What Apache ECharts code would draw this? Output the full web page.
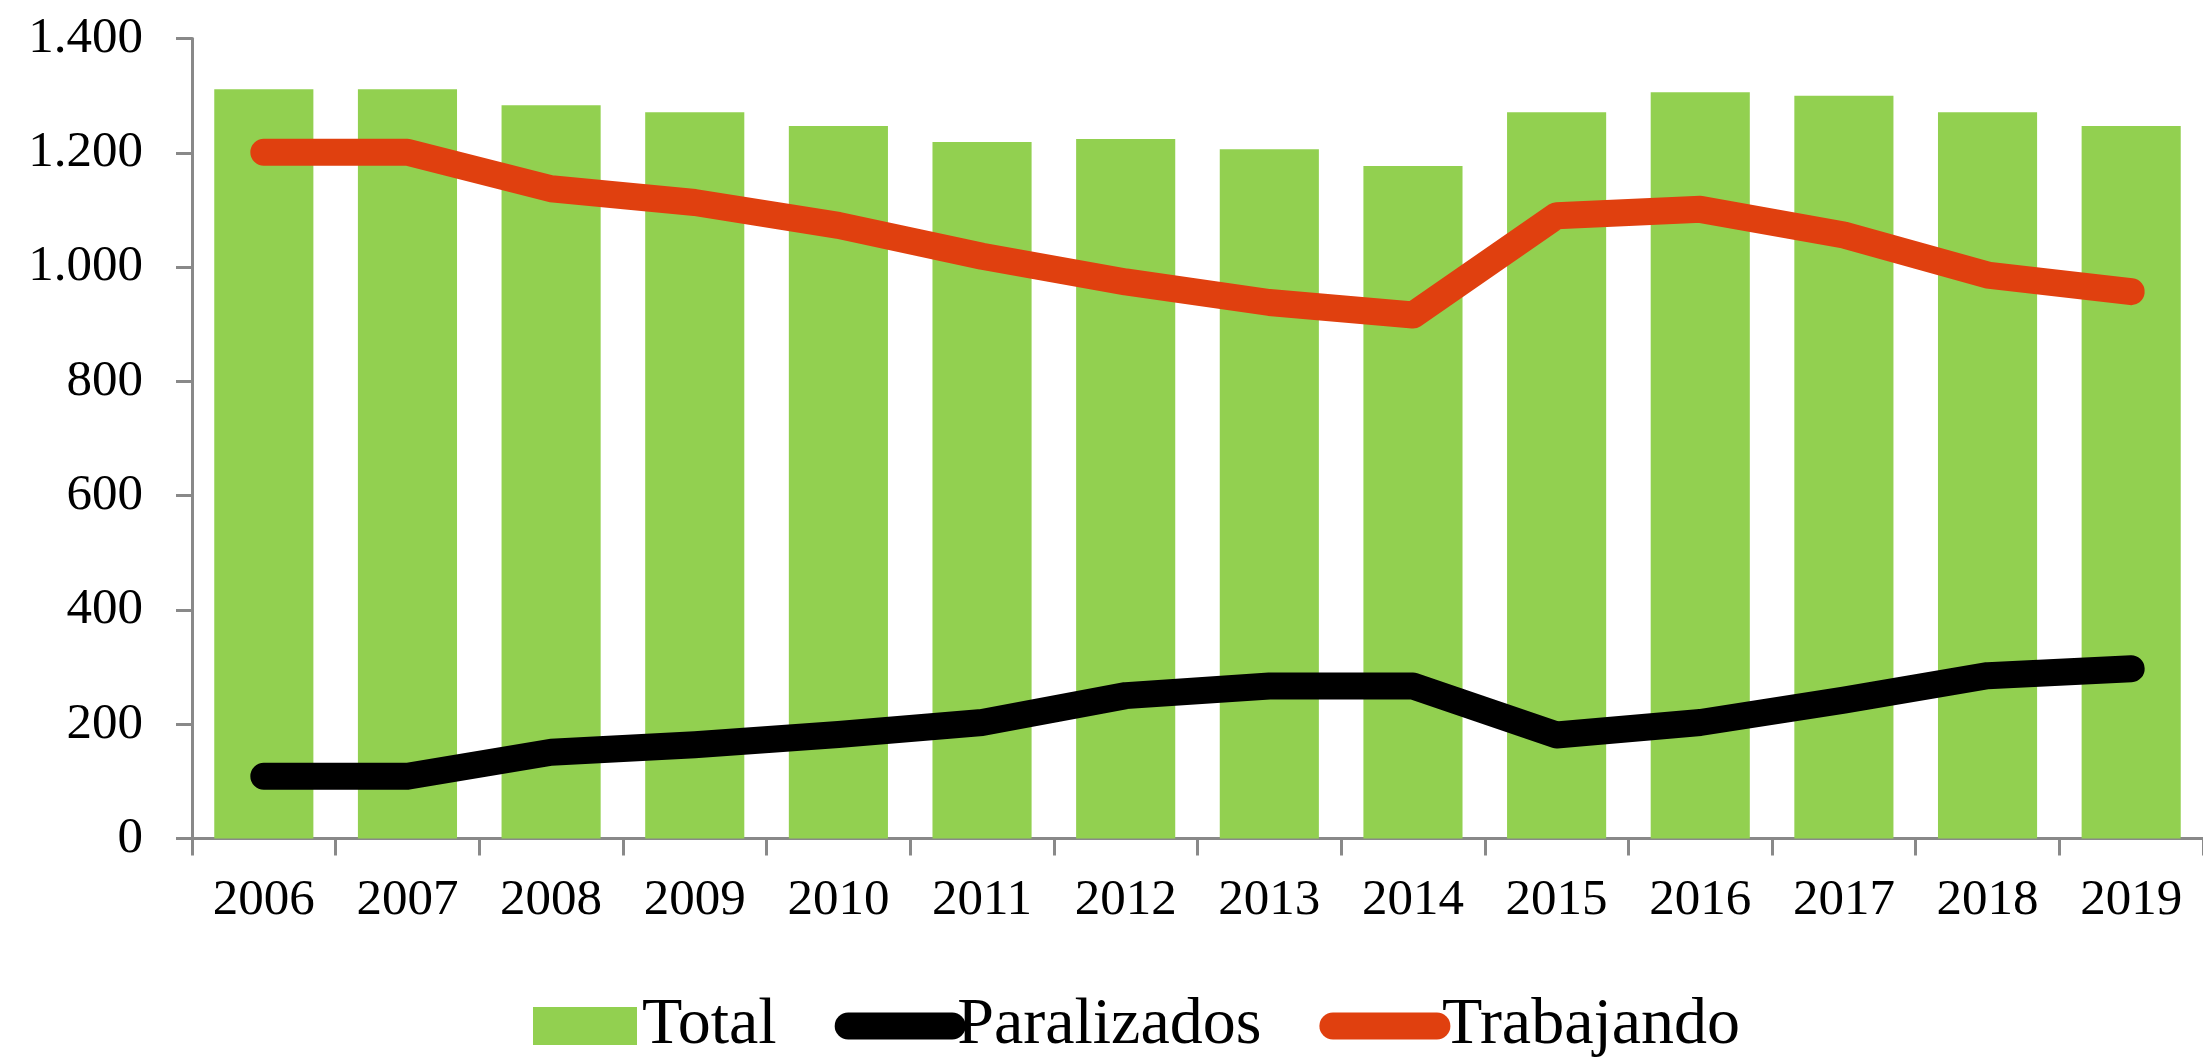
<!DOCTYPE html>
<html>
<head>
<meta charset="utf-8">
<script src="https://cdn.jsdelivr.net/npm/echarts@6/dist/echarts.min.js"></script>
<style>
  html, body { margin: 0; padding: 0; background: #fff; }
  #chart { width: 2203px; height: 1057px; }
</style>
</head>
<body>
<div id="chart"></div>
<script>
// data
var years = ['2006', '2007', '2008', '2009', '2010', '2011', '2012', '2013', '2014', '2015', '2016', '2017', '2018', '2019'];
var total = [1311, 1311, 1283, 1271, 1247, 1219, 1224, 1206, 1177, 1271, 1306, 1300, 1271, 1247];
var paralizados = [109, 109, 151, 164, 182, 203, 250, 267, 267, 181, 203, 242, 285, 297];
var trabajando = [1201, 1201, 1137, 1113, 1073, 1019, 974, 938, 916, 1090, 1101, 1056, 986, 957];

var fontName = '"Liberation Serif", "DejaVu Serif", serif';
var axisGray = '#898989';

var chart = echarts.init(document.getElementById('chart'));

// y axis labels use a dot as thousands separator
function fmtNum(v) {
    var s = String(v);
    if (s.length > 3) {
        s = s.slice(0, s.length - 3) + '.' + s.slice(s.length - 3);
    }
    return s;
}

var option = {
    backgroundColor: '#ffffff',
    animation: false,
    grid: {
        left: 192,
        right: 0,
        top: 38.5,
        bottom: 218.5,
        containLabel: false
    },
    legend: {
        left: 528,
        top: 988,
        itemWidth: 104,
        itemHeight: 38,
        itemGap: 58,
        textStyle: {
            fontFamily: fontName,
            fontSize: 66,
            color: '#000'
        },
        data: [
            { name: 'Total', icon: 'rect' },
            { name: 'Paralizados', itemStyle: { opacity: 0, borderWidth: 0 }, lineStyle: { width: 27, cap: 'round' } },
            { name: 'Trabajando', itemStyle: { opacity: 0, borderWidth: 0 }, lineStyle: { width: 27, cap: 'round' } }
        ]
    },
    xAxis: {
        type: 'category',
        data: years,
        boundaryGap: true,
        axisLine: { lineStyle: { color: axisGray, width: 3 } },
        axisTick: { show: true, length: 17, lineStyle: { color: axisGray, width: 3 } },
        axisLabel: {
            margin: 37,
            fontFamily: fontName,
            fontSize: 51,
            color: '#000'
        }
    },
    yAxis: {
        type: 'value',
        min: 0,
        max: 1400,
        interval: 200,
        axisLine: { show: true, lineStyle: { color: axisGray, width: 3 } },
        axisTick: { show: true, length: 16, lineStyle: { color: axisGray, width: 3 } },
        splitLine: { show: false },
        axisLabel: {
            margin: 49,
            fontFamily: fontName,
            fontSize: 51,
            color: '#000',
            formatter: fmtNum
        }
    },
    series: [
        {
            name: 'Total',
            type: 'bar',
            data: total,
            barCategoryGap: '31%',
            itemStyle: { color: '#92D050' }
        },
        {
            name: 'Paralizados',
            type: 'line',
            data: paralizados,
            symbol: 'none',
            lineStyle: { color: '#000000', width: 27, cap: 'round', join: 'round' },
            itemStyle: { color: '#000000' }
        },
        {
            name: 'Trabajando',
            type: 'line',
            data: trabajando,
            symbol: 'none',
            lineStyle: { color: '#E0400F', width: 27, cap: 'round', join: 'round' },
            itemStyle: { color: '#E0400F' }
        }
    ]
};

chart.setOption(option);
</script>
</body>
</html>
